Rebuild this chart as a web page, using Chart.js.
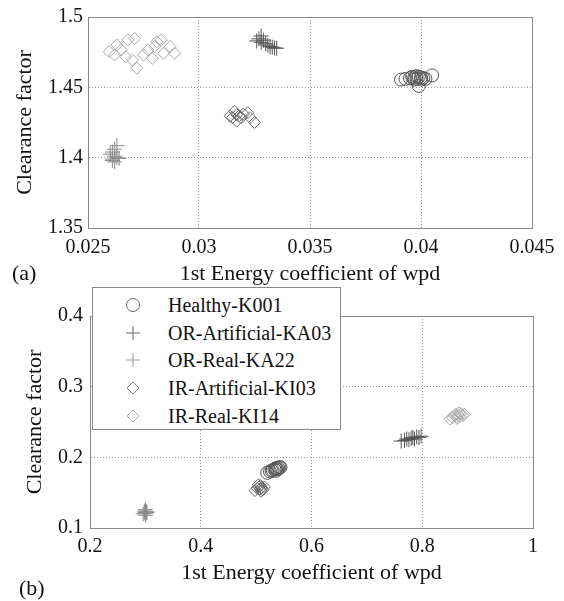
<!DOCTYPE html>
<html>
<head>
<meta charset="utf-8">
<script src="https://cdn.jsdelivr.net/npm/chart.js@4.4.0/dist/chart.umd.min.js"></script>
<style>
  body { margin: 0; background: #fff; }
  #wrap { position: relative; width: 564px; height: 601px; font-family: 'Liberation Serif', 'Times New Roman', serif; color: #111; }
  canvas { position: absolute; left: 0; }
  #chartA { top: 0; }
  #chartB { top: 290px; }
  .tag { position: absolute; font-size: 22px; line-height: 22px; font-family: 'Liberation Serif', serif; }
  #legend { position: absolute; left: 92px; top: 287px; width: 247px; height: 141px; border: 1px solid #888; background: #fff; font-family: 'Liberation Serif', serif; }
  .row { position: absolute; left: 0; height: 28px; line-height: 28px; font-size: 20px; }
  .row svg { position: absolute; left: 33px; top: 7px; }
  .row span { position: absolute; left: 75px; white-space: nowrap; }
</style>
</head>
<body>
<div id="wrap">
  <canvas id="chartA" width="564" height="290"></canvas>
  <canvas id="chartB" width="564" height="311"></canvas>
  <div class="tag" style="left:12px; top:262px;">(a)</div>
  <div class="tag" style="left:19px; top:577px;">(b)</div>
  <div id="legend"></div>
</div>
<script>
// 系列名稱
const seriesNames = ['Healthy-K001', 'OR-Artificial-KA03', 'OR-Real-KA22', 'IR-Artificial-KI03', 'IR-Real-KI14'];

// (a) 軸刻度
const xTicksA = [0.025, 0.03, 0.035, 0.04, 0.045];
const xLabelsA = ['0.025', '0.03', '0.035', '0.04', '0.045'];
const yTicksA = [1.35, 1.4, 1.45, 1.5];
const yLabelsA = ['1.35', '1.4', '1.45', '1.5'];

// (b) 軸刻度
const xTicksB = [0.2, 0.4, 0.6, 0.8, 1];
const xLabelsB = ['0.2', '0.4', '0.6', '0.8', '1'];
const yTicksB = [0.1, 0.2, 0.3, 0.4];
const yLabelsB = ['0.1', '0.2', '0.3', '0.4'];

// (a) 資料
const healthyAx = [0.0391, 0.0393, 0.0395, 0.0396, 0.0397, 0.0397, 0.0398, 0.0398, 0.0399, 0.0400, 0.0400, 0.0401, 0.0402, 0.0399, 0.0405];
const healthyAy = [1.4555, 1.4560, 1.4565, 1.4575, 1.4570, 1.4555, 1.4580, 1.4560, 1.4575, 1.4570, 1.4555, 1.4565, 1.4560, 1.4510, 1.4585];
const orArtAx = [0.0326, 0.0327, 0.0328, 0.0328, 0.0329, 0.0330, 0.0331, 0.0332, 0.0333, 0.0334, 0.0335];
const orArtAy = [1.4830, 1.4845, 1.4865, 1.4820, 1.4835, 1.4810, 1.4800, 1.4790, 1.4785, 1.4780, 1.4778];
const orRealAx = [0.0260, 0.0261, 0.0261, 0.0262, 0.0262, 0.0263, 0.0263, 0.0264, 0.0262, 0.0261];
const orRealAy = [1.4025, 1.3990, 1.4040, 1.4010, 1.3970, 1.4000, 1.4085, 1.3995, 1.4060, 1.3980];
const irArtAx = [0.0314, 0.0315, 0.0316, 0.0317, 0.0317, 0.0319, 0.0320, 0.0322, 0.0323, 0.0325, 0.0318];
const irArtAy = [1.4295, 1.4285, 1.4330, 1.4305, 1.4260, 1.4285, 1.4310, 1.4320, 1.4285, 1.4250, 1.4295];
const irRealAx = [0.02595, 0.0262, 0.0263, 0.0265, 0.0267, 0.0268, 0.0270, 0.0271, 0.0272, 0.0275, 0.0277, 0.0279, 0.0280, 0.0281, 0.0283, 0.0284, 0.0287, 0.0289];
const irRealAy = [1.4754, 1.4730, 1.4801, 1.4766, 1.4718, 1.4838, 1.4695, 1.4847, 1.4636, 1.4730, 1.4766, 1.4706, 1.4789, 1.4824, 1.4836, 1.4742, 1.4789, 1.4742];

// (b) 資料
const healthyBx = [0.520, 0.525, 0.528, 0.530, 0.533, 0.535, 0.537, 0.538, 0.540, 0.542, 0.544, 0.536];
const healthyBy = [0.178, 0.180, 0.181, 0.182, 0.183, 0.184, 0.185, 0.183, 0.185, 0.186, 0.186, 0.181];
const orArtBx = [0.762, 0.768, 0.772, 0.776, 0.780, 0.783, 0.786, 0.790, 0.794, 0.798];
const orArtBy = [0.223, 0.224, 0.226, 0.225, 0.227, 0.228, 0.226, 0.229, 0.228, 0.230];
const orRealBx = [0.296, 0.298, 0.299, 0.300, 0.301, 0.302, 0.300, 0.303];
const orRealBy = [0.120, 0.124, 0.122, 0.126, 0.121, 0.123, 0.118, 0.122];
const irArtBx = [0.498, 0.502, 0.505, 0.507, 0.508, 0.510, 0.512, 0.515, 0.504, 0.509];
const irArtBy = [0.153, 0.156, 0.158, 0.155, 0.160, 0.157, 0.154, 0.158, 0.161, 0.152];
const irRealBx = [0.850, 0.855, 0.858, 0.860, 0.862, 0.865, 0.866, 0.868, 0.870, 0.873, 0.876, 0.863];
const irRealBy = [0.254, 0.256, 0.259, 0.261, 0.257, 0.260, 0.263, 0.258, 0.262, 0.259, 0.261, 0.255];

// 標記樣式
const markerStyles = [
    { pointStyle: 'circle', radius: 6.5, color: '#555', legendColor: '#666' },
    { pointStyle: 'cross', radius: 7.5, color: '#555', legendColor: '#666' },
    { pointStyle: 'cross', radius: 7.5, color: '#8a8a8a', legendColor: '#999' },
    { pointStyle: 'rectRot', radius: 6, color: '#6a6a6a', legendColor: '#888' },
    { pointStyle: 'rectRot', radius: 6, color: '#aaa', legendColor: '#aaa' }
];

const serif = 'Liberation Serif';

function zip(xs, ys) {
    return xs.map((x, i) => ({ x: x, y: ys[i] }));
}

function makeDatasets(pairs) {
    return pairs.map((p, i) => ({
        label: seriesNames[i],
        data: zip(p[0], p[1]),
        pointStyle: markerStyles[i].pointStyle,
        pointRadius: markerStyles[i].radius,
        borderColor: markerStyles[i].color,
        backgroundColor: 'rgba(0,0,0,0)',
        borderWidth: 1,
        showLine: false
    }));
}

// 畫外框
const framePlugin = {
    id: 'frame',
    afterDraw(chart) {
        const a = chart.chartArea;
        const ctx = chart.ctx;
        ctx.save();
        ctx.strokeStyle = '#888';
        ctx.lineWidth = 1;
        ctx.strokeRect(Math.round(a.left) + 0.5, Math.round(a.top) + 0.5, Math.round(a.right - a.left), Math.round(a.bottom - a.top));
        ctx.restore();
    }
};

function axisOpts(opt) {
    return {
        type: 'linear',
        min: opt.min,
        max: opt.max,
        afterBuildTicks: s => { s.ticks = opt.ticks.map(v => ({ value: v })); },
        afterFit: s => {
            if (opt.width) s.width = opt.width;
            if (opt.height) s.height = opt.height;
        },
        ticks: {
            autoSkip: false,
            maxRotation: 0,
            padding: opt.tickPad,
            color: '#111',
            font: { family: serif, size: 20 },
            callback: (v, i) => opt.labels[i]
        },
        grid: { color: '#9a9a9a', lineWidth: 1, drawTicks: false },
        border: { display: true, color: '#888', dash: [1, 2] },
        title: {
            display: true,
            text: opt.title,
            color: '#111',
            font: { family: serif, size: 22 },
            padding: opt.titlePad
        }
    };
}

function makeChart(id, datasets, pad, xo, yo) {
    return new Chart(document.getElementById(id).getContext('2d'), {
        type: 'scatter',
        data: { datasets: datasets },
        options: {
            responsive: false,
            animation: false,
            layout: { padding: pad },
            plugins: { legend: { display: false }, tooltip: { enabled: false } },
            scales: { x: axisOpts(xo), y: axisOpts(yo) }
        },
        plugins: [framePlugin]
    });
}

makeChart('chartA',
    makeDatasets([[healthyAx, healthyAy], [orArtAx, orArtAy], [orRealAx, orRealAy], [irArtAx, irArtAy], [irRealAx, irRealAy]]),
    { top: 15, right: 32, left: 0, bottom: 0 },
    { min: 0.025, max: 0.045, ticks: xTicksA, labels: xLabelsA, height: 62, tickPad: 8,
      title: '1st Energy coefficient of wpd', titlePad: { top: 0, bottom: 3 } },
    { min: 1.35, max: 1.5, ticks: yTicksA, labels: yLabelsA, width: 88, tickPad: 5,
      title: 'Clearance factor', titlePad: { top: 12, bottom: 0 } }
);

makeChart('chartB',
    makeDatasets([[healthyBx, healthyBy], [orArtBx, orArtBy], [orRealBx, orRealBy], [irArtBx, irArtBy], [irRealBx, irRealBy]]),
    { top: 26, right: 31, left: 0, bottom: 0 },
    { min: 0.2, max: 1, ticks: xTicksB, labels: xLabelsB, height: 73, tickPad: 7,
      title: '1st Energy coefficient of wpd', titlePad: { top: 0, bottom: 15 } },
    { min: 0.1, max: 0.4, ticks: yTicksB, labels: yLabelsB, width: 90, tickPad: 7,
      title: 'Clearance factor', titlePad: { top: 22, bottom: 0 } }
);

// 圖例 (HTML)
function markerSvg(m) {
    const c = m.legendColor;
    let shape = '';
    if (m.pointStyle === 'circle') shape = `<circle cx="7" cy="7" r="6.5" fill="none" stroke="${c}" />`;
    else if (m.pointStyle === 'cross') shape = `<path d="M0 7H14M7 0V14" stroke="${c}" />`;
    else shape = `<path d="M1 7L7 1L13 7L7 13Z" fill="none" stroke="${c}" />`;
    return `<svg width="14" height="14" viewBox="0 0 14 14">${shape}</svg>`;
}

const legendEl = document.getElementById('legend');
legendEl.innerHTML = seriesNames.map((name, i) => `
    <div class="row" style="top:${3 + i * 27.7}px">${markerSvg(markerStyles[i])}<span>${name}</span></div>
`).join('');
</script>
</body>
</html>
